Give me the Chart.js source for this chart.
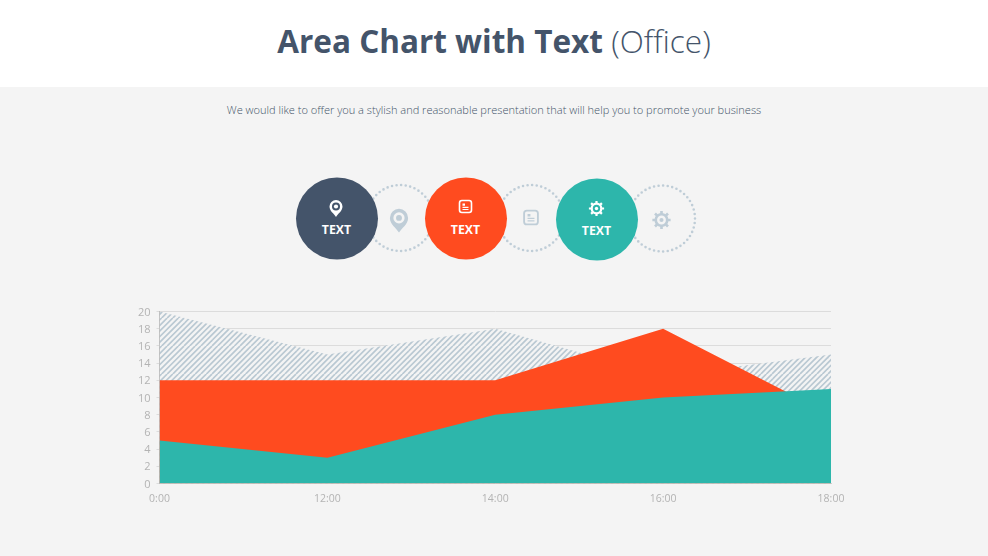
<!DOCTYPE html>
<html><head><meta charset="utf-8">
<script src="https://cdn.jsdelivr.net/npm/chart.js@4"></script>
<style>
html,body{margin:0;padding:0;width:988px;height:556px;overflow:hidden;background:#f4f4f4}
#head{position:absolute;left:0;top:0;width:988px;height:87px;background:#fff}
#title{position:absolute;left:0;width:988px;top:19px;text-align:center;font:300 31.5px/44px "Open Sans",sans-serif;color:#44546a;white-space:nowrap}
#title b{font-weight:700}
#sub{position:absolute;left:0;width:988px;top:101px;text-align:center;font:300 11.05px/18px "Open Sans",sans-serif;color:#44546a;white-space:nowrap}
#icons{position:absolute;left:0;top:0}
#wrap{position:absolute;left:100px;top:290px;width:780px;height:230px}
</style></head><body>
<div id="head"></div>
<div id="title"><b>Area Chart with Text</b> (Office)</div>
<div id="sub">We would like to offer you a stylish and reasonable presentation that will help you to promote your business</div>
<svg id="icons" width="988" height="300" xmlns="http://www.w3.org/2000/svg">
  <defs>
    <g id="pin"><path d="M0 9 C-2 5.5 -6.5 3 -6.5 -1.5 A6.5 6.5 0 0 1 6.5 -1.5 C6.5 3 2 5.5 0 9Z" fill="currentColor"/><circle cy="-1.5" r="4" fill="var(--h)"/><circle cy="-1.5" r="2.1" fill="currentColor"/></g>
    <g id="doc"><rect x="-6" y="-6" width="12" height="12" rx="2.4" fill="none" stroke="currentColor" stroke-width="1.6"/><path d="M-3 -3H-0.5V-0.8H-3ZM-3 0.3H3V1.4H-3ZM-3 2.4H3V3.5H-3Z" fill="currentColor"/></g>
    <g id="gear"><circle r="4.8" fill="none" stroke="currentColor" stroke-width="2.2"/><circle r="1.7" fill="currentColor"/><g stroke="currentColor" stroke-width="2.2"><path d="M0 -7.6V-5M0 5V7.6M-7.6 0H-5M5 0H7.6M-5.4 -5.4L-3.6 -3.6M3.6 3.6L5.4 5.4M-5.4 5.4L-3.6 3.6M3.6 -3.6L5.4 -5.4"/></g></g>
  </defs>
  <g fill="none" stroke="#bfcdd7" stroke-width="2.6" stroke-linecap="round" stroke-dasharray="0 4.6">
    <circle cx="400" cy="218" r="33"/><circle cx="531" cy="218" r="33"/><circle cx="662" cy="218.5" r="33"/>
  </g>
  <circle cx="337" cy="218.5" r="41" fill="#44546a"/>
  <circle cx="466" cy="218.5" r="41" fill="#ff4b1f"/>
  <circle cx="597" cy="219.5" r="41" fill="#2db6ab"/>
  <use href="#pin" x="336" y="208" color="#fff" style="--h:#44546a"/>
  <use href="#doc" x="465.5" y="206.5" color="#fff" style="--h:#ff4b1f"/>
  <use href="#gear" x="596.5" y="208.5" color="#fff" style="--h:#2db6ab"/>
  <use href="#pin" x="399" y="220" color="#bfcdd7" transform="translate(399 220) scale(1.4) translate(-399 -220)" style="--h:#f4f4f4"/>
  <use href="#doc" x="531" y="217.5" color="#bfcdd7" transform="translate(531 217.5) scale(1.15) translate(-531 -217.5)" style="--h:#f4f4f4"/>
  <use href="#gear" x="661.5" y="220" color="#bfcdd7" transform="translate(661.5 220) scale(1.2) translate(-661.5 -220)" style="--h:#f4f4f4"/>
  <g font-family="Open Sans" font-weight="700" font-size="12.3" fill="#fff" text-anchor="middle">
    <text x="336.5" y="234">TEXT</text><text x="465.5" y="234">TEXT</text><text x="596.5" y="235">TEXT</text>
  </g>
</svg>
<div id="wrap"><canvas id="c"></canvas></div>
<script>
const categories = ["0:00","12:00","14:00","16:00","18:00"];
const hatchValues = [20,15,18,12.5,15];
const orangeValues = [12,12,12,18,8];
const tealValues = [5,3,8,10,11];
const yTicks = [0,2,4,6,8,10,12,14,16,18,20];

function hatch(){
  const n=28, p=document.createElement('canvas'); p.width=p.height=n;
  const g=p.getContext('2d');
  g.fillStyle='#f4f4f4'; g.fillRect(0,0,n,n);
  g.strokeStyle='#b9c8d2'; g.lineWidth=1.7;
  const step=n/5;
  for(let i=-5;i<=10;i++){g.beginPath();g.moveTo(i*step,n);g.lineTo(i*step+n,0);g.stroke();}
  return g.createPattern(p,'repeat');
}
const ds=(label,data,bg,order)=>({label,data,backgroundColor:bg,borderWidth:0,pointRadius:0,fill:'origin',tension:0,order});
new Chart(document.getElementById('c'),{
  type:'line',
  data:{labels:categories,datasets:[
    ds('Series 3',tealValues,'#2db6ab',1),
    ds('Series 2',orangeValues,'#ff4b1f',2),
    ds('Series 1',hatchValues,hatch(),3)
  ]},
  options:{
    responsive:true,maintainAspectRatio:false,animation:false,
    layout:{padding:{top:21.5,right:49,bottom:0,left:0}},
    plugins:{legend:{display:false},tooltip:{enabled:false},title:{display:false}},
    scales:{
      x:{type:'category',offset:false,
        afterFit(a){a.height=36.5;},
        grid:{display:false,drawTicks:true,tickLength:5,color:'#cfcfcf'},
        border:{color:'#cfcfcf'},
        ticks:{color:'#b3b3b3',font:{family:'Open Sans',size:10.5},maxRotation:0,padding:4,autoSkip:false}},
      y:{min:0,max:20,
        afterFit(a){a.width=59.5;},
        afterBuildTicks(a){a.ticks=yTicks.map(v=>({value:v}));},
        grid:{color:'#dcdcdc',lineWidth:1,tickLength:3},
        border:{color:'#bdbdbd'},
        ticks:{color:'#b3b3b3',font:{family:'Open Sans',size:11},padding:6,labelOffset:1}}
    }
  }
});
</script>
</body></html>
